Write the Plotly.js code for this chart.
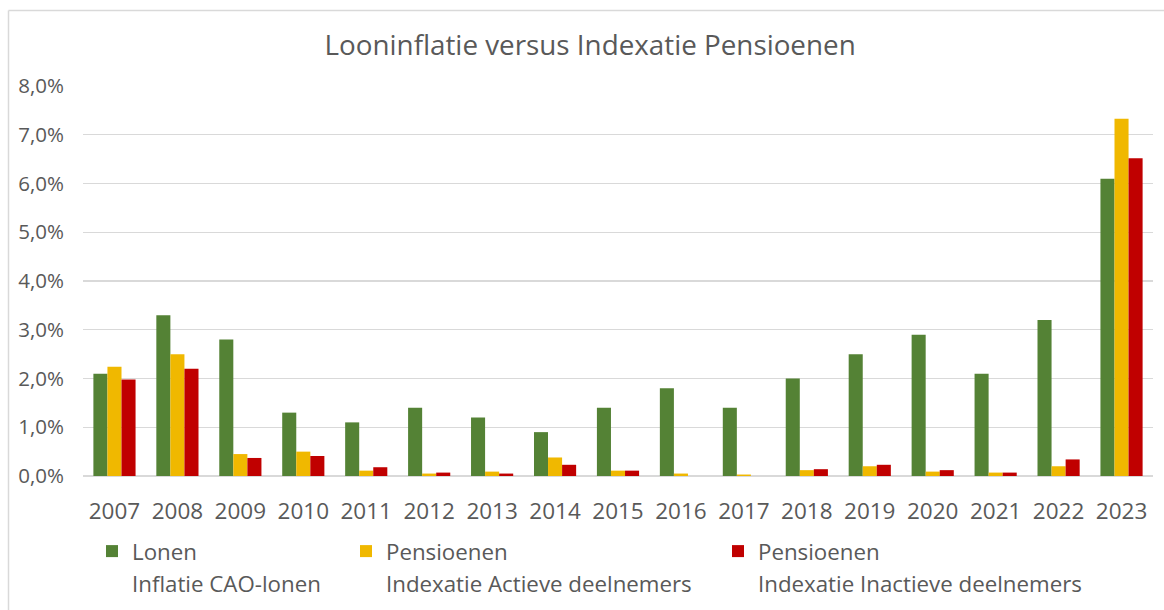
<!DOCTYPE html>
<html>
<head>
<meta charset="utf-8">
<script src="https://cdn.plot.ly/plotly-3.0.1.min.js"></script>
<style>
html,body{margin:0;padding:0;background:#fff;}
#chart{width:1164px;height:610px;}
</style>
</head>
<body>
<div id="chart"></div>
<script>
const years = ['2007','2008','2009','2010','2011','2012','2013','2014','2015','2016','2017','2018','2019','2020','2021','2022','2023'];
const lonen = [2.1, 3.3, 2.8, 1.3, 1.1, 1.4, 1.2, 0.9, 1.4, 1.8, 1.4, 2.0, 2.5, 2.9, 2.1, 3.2, 6.1];
const actief = [2.24, 2.5, 0.45, 0.5, 0.11, 0.05, 0.09, 0.38, 0.11, 0.05, 0.03, 0.12, 0.2, 0.09, 0.07, 0.2, 7.33];
const inactief = [1.98, 2.2, 0.37, 0.41, 0.18, 0.07, 0.05, 0.23, 0.11, 0, 0, 0.14, 0.23, 0.12, 0.07, 0.34, 6.52];
const seriesNames = [
  'Lonen<br>Inflatie CAO-lonen',
  'Pensioenen<br>Indexatie Actieve deelnemers',
  'Pensioenen<br>Indexatie Inactieve deelnemers'
];
const colors = ['#548235', '#F0B800', '#C00000'];

const pct = a => a.map(v => v / 100);
const font = '"Open Sans", Lato, sans-serif';
const txt = '#595959';
const legSize = 22.3;
const legendIds = ['legend', 'legend2', 'legend3'];
const legendLeftPx = [92, 346, 718];

const data = [lonen, actief, inactief].map((vals, i) => ({
  type: 'bar',
  x: years,
  y: pct(vals),
  name: seriesNames[i].split('<br>').map(s => '<span style="font-size:' + legSize + 'px">' + s + '</span>').join('<br>'),
  marker: {color: colors[i]},
  legend: legendIds[i],
  hoverinfo: 'x+y'
}));

const layout = {
  width: 1164, height: 610,
  paper_bgcolor: '#fff', plot_bgcolor: '#fff',
  margin: {l: 83, r: 11, t: 86, b: 134, autoexpand: false},
  separators: ',.',
  font: {family: font, color: txt, size: 18},
  title: {
    text: 'Looninflatie versus Indexatie Pensioenen',
    font: {family: font, size: 27.8, color: txt},
    x: 0.507, xref: 'container', xanchor: 'center',
    y: 1 - 45 / 610, yref: 'container', yanchor: 'middle'
  },
  barmode: 'group',
  bargap: 0.33,
  bargroupgap: 0,
  xaxis: {
    type: 'category',
    showgrid: false, zeroline: false, showline: false,
    ticks: '', ticklabelstandoff: 19,
    tickfont: {family: font, size: 22.5, color: txt}
  },
  yaxis: {
    range: [0, 0.08], dtick: 0.01, tickformat: '.1%',
    showgrid: true, gridcolor: '#d9d9d9', gridwidth: 1.3,
    zeroline: true, zerolinecolor: '#d9d9d9', zerolinewidth: 1.3,
    showline: false, ticks: '', ticklabelstandoff: 18,
    tickfont: {family: font, size: 20.5, color: txt}
  },
  showlegend: true,
  shapes: [
    {type: 'line', xref: 'paper', yref: 'paper',
     x0: (8.5 - 83) / 1070, x1: (1170 - 83) / 1070,
     y0: (476 - 10.5) / 390, y1: (476 - 10.5) / 390,
     line: {color: '#d9d9d9', width: 1.5}},
    {type: 'line', xref: 'paper', yref: 'paper',
     x0: (8.5 - 83) / 1070, x1: (8.5 - 83) / 1070,
     y0: (476 - 10.5) / 390, y1: (476 - 620) / 390,
     line: {color: '#d9d9d9', width: 1.5}}
  ]
};

legendIds.forEach((id, i) => {
  layout[id] = {
    orientation: 'h',
    x: (legendLeftPx[i] - 83) / 1070, xanchor: 'left',
    y: (476 - 529) / 390, yanchor: 'top',
    font: {family: font, size: 24, color: txt},
    valign: 'top',
    itemwidth: 30,
    bgcolor: 'rgba(0,0,0,0)'
  };
});

Plotly.newPlot('chart', data, layout, {displayModeBar: false, staticPlot: true});
</script>
</body>
</html>
